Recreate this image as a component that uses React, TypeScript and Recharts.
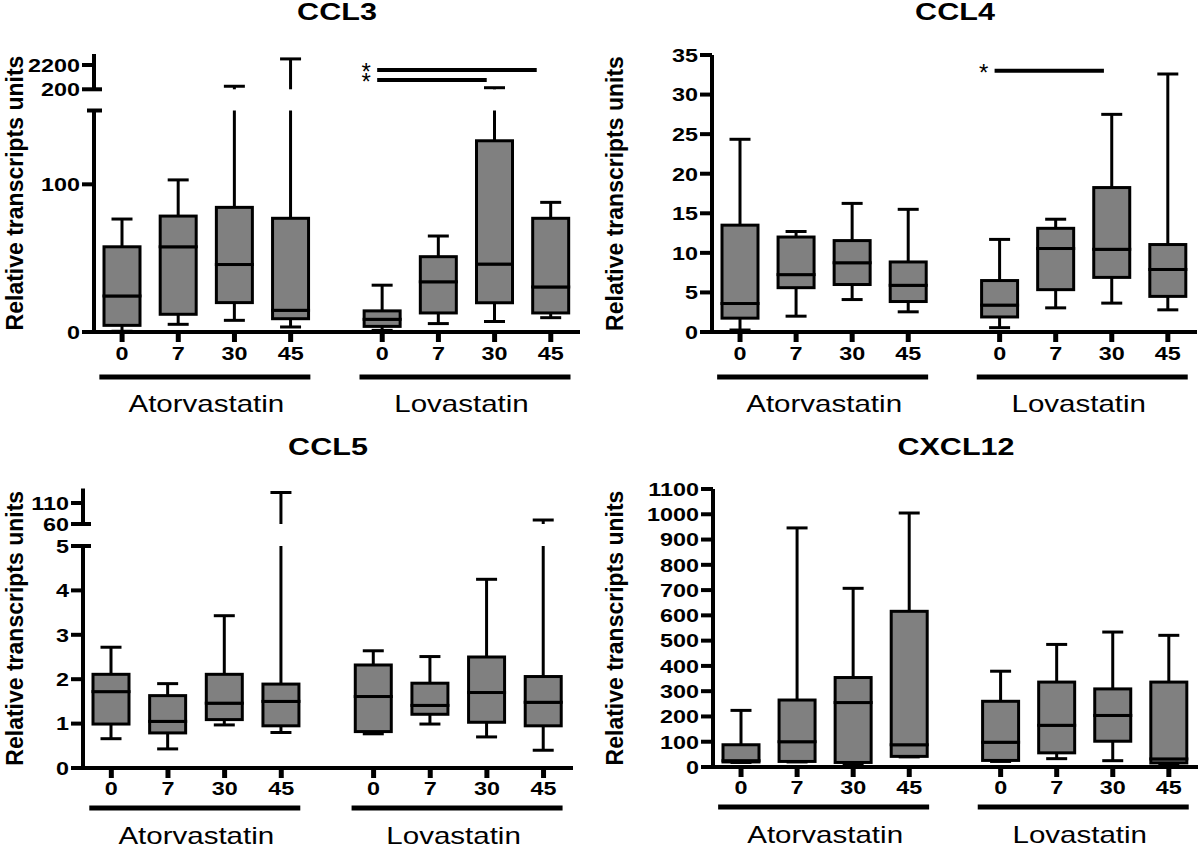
import React from 'react'
import { ComposedChart, Bar, XAxis, YAxis, ReferenceLine } from 'recharts'

const FONT = 'Arial, "Liberation Sans", Helvetica, sans-serif'
const SX = 1.23 // the source lettering is stretched sideways
const TITLE_SX = 1.3
const FILL = '#808080'

const days = ['0', '7', '30', '45']
const groups = ['Atorvastatin', 'Lovastatin']
const yLabel = 'Relative transcripts units'

// [min, q1, median, q3, max] — Atorvastatin 0/7/30/45, then Lovastatin 0/7/30/45
type Box = [number, number, number, number, number]

const ccl3: Box[] = [
  [0.5, 4.5, 24.4, 57.7, 76.5],
  [5.2, 12, 57.7, 78.5, 103],
  [7.9, 19.9, 45.7, 84.4, 450],
  [3.4, 9, 14.7, 77, 2700],
  [1.1, 3.8, 8.6, 14.3, 31.7],
  [5.7, 12.9, 34, 51, 65],
  [7.1, 19.8, 46, 129.5, 330],
  [9.7, 12.9, 30.5, 77, 87.8],
]
const ccl4: Box[] = [
  [0.25, 1.75, 3.6, 13.5, 24.35],
  [2.0, 5.6, 7.25, 12.0, 12.7],
  [4.1, 6.0, 8.75, 11.55, 16.25],
  [2.55, 3.85, 5.9, 8.85, 15.5],
  [0.55, 1.9, 3.4, 6.5, 11.7],
  [3.05, 5.35, 10.55, 13.1, 14.25],
  [3.65, 6.9, 10.45, 18.25, 27.5],
  [2.8, 4.5, 7.9, 11.05, 32.6],
]
const ccl5: Box[] = [
  [0.66, 0.99, 1.72, 2.11, 2.72],
  [0.43, 0.79, 1.05, 1.63, 1.9],
  [0.97, 1.09, 1.46, 2.11, 3.43],
  [0.8, 0.95, 1.5, 1.89, 135],
  [0.77, 0.82, 1.61, 2.32, 2.64],
  [0.99, 1.21, 1.41, 1.91, 2.51],
  [0.7, 1.03, 1.7, 2.5, 4.25],
  [0.4, 0.95, 1.48, 2.06, 69.5],
]
const cxcl12: Box[] = [
  [18, 20, 25, 88, 224],
  [20, 22, 100, 265, 946],
  [9, 18, 255, 354, 707],
  [40, 42, 88, 616, 1005],
  [22, 26, 98, 260, 379],
  [33, 56, 165, 336, 485],
  [25, 102, 204, 309, 534],
  [9, 16, 32, 336, 521],
]

const ccl3Ticks = [0, 100, 150, 200, 2200]
const ccl3TickLabels = ['0', '100', '', '200', '2200']
const ccl4Ticks = [0, 5, 10, 15, 20, 25, 30, 35]
const ccl5Ticks = [0, 1, 2, 3, 4, 5, 60, 110]
const cxcl12Ticks = [0, 100, 200, 300, 400, 500, 600, 700, 800, 900, 1000, 1100]

// significance bars: box index from -> to, height in data units
const ccl3Sig = [{ from: 4, to: 7, y: 1785 }, { from: 4, to: 6, y: 964 }]
const ccl4Sig = [{ from: 4, to: 6, y: 33 }]

const X_MIN = -0.5
const X_MAX = 8.15
const LOVA_SHIFT = 0.63
const X_AXIS_H = 30
const boxPos = (i: number) => (i < 4 ? i : i + LOVA_SHIFT)
const positions = [0, 1, 2, 3, 4, 5, 6, 7].map(boxPos)
const groupCenters = [1.5, 4 + LOVA_SHIFT + 1.5]

interface Brk { low: number; high: number; gap: number; k: number }

function toDisp(v: number, brk?: Brk) {
  if (!brk || v <= brk.low) return v
  return brk.low + brk.gap + (v - brk.high) * brk.k
}

interface PanelCfg {
  title: string
  data: Box[]
  left: number
  top: number
  width: number
  height: number
  plot: { l: number; r: number; t: number; b: number }
  yTop: number
  ticks: number[]
  tickLabels?: string[]
  brk?: Brk
  sig?: { from: number; to: number; y: number }[]
  tickDy: number
  ulDy: number
  lblDy: number
  titleY: number
}

const panels: PanelCfg[] = [
  {
    title: 'CCL3', data: ccl3, left: 0, top: 0, width: 600, height: 420,
    plot: { l: 94, r: 580, t: 54, b: 332 }, yTop: 188.26,
    ticks: ccl3Ticks, tickLabels: ccl3TickLabels,
    brk: { low: 150, high: 200, gap: 14.36, k: 0.00823 },
    sig: ccl3Sig, tickDy: 21, ulDy: 45, lblDy: 71, titleY: 13,
  },
  {
    title: 'CCL4', data: ccl4, left: 600, top: 0, width: 600, height: 420,
    plot: { l: 112, r: 597, t: 55, b: 332 }, yTop: 35,
    ticks: ccl4Ticks, sig: ccl4Sig, tickDy: 21, ulDy: 45, lblDy: 71, titleY: 13,
  },
  {
    title: 'CCL5', data: ccl5, left: 0, top: 420, width: 600, height: 429,
    plot: { l: 83, r: 573, t: 68.5, b: 348 }, yTop: 6.295,
    ticks: ccl5Ticks,
    brk: { low: 5, high: 60, gap: 0.4955, k: 0.00946 },
    tickDy: 20, ulDy: 40, lblDy: 67, titleY: 28,
  },
  {
    title: 'CXCL12', data: cxcl12, left: 600, top: 420, width: 600, height: 429,
    plot: { l: 113, r: 598, t: 69, b: 347 }, yTop: 1100,
    ticks: cxcl12Ticks, tickDy: 20, ulDy: 40, lblDy: 67, titleY: 28,
  },
]

const seg = (x1: number, y1: number, x2: number, y2: number, w = 3, key?: number) => (
  <line key={key} x1={x1} y1={y1} x2={x2} y2={y2} stroke="#000" strokeWidth={w} />
)

function Panel({ cfg }: { cfg: PanelCfg }) {
  const { plot, brk } = cfg
  const t = (v: number) => toDisp(v, brk)
  const rows = cfg.data.map((b, i) => ({
    pos: boxPos(i),
    max: b[4],
    q3: b[3],
    base: t(b[0]),
    lowW: t(b[1]) - t(b[0]),
    boxLo: t(b[2]) - t(b[1]),
    boxHi: t(b[3]) - t(b[2]),
    highW: t(b[4]) - t(b[3]),
  }))
  const dispTicks = cfg.ticks.map(t)
  const h2 = cfg.height - plot.b - X_AXIS_H
  const cy = (plot.t + plot.b) / 2

  const boxShape = (p: any) => (
    <rect x={p.x} y={p.y} width={p.width} height={Math.max(p.height, 0)} fill={FILL} stroke="#000" strokeWidth={3} />
  )
  const lowShape = (p: any) => {
    const cx = p.x + p.width / 2
    const yb = p.y + p.height
    return (
      <g>
        {seg(cx, p.y, cx, yb)}
        {seg(cx - 10.5, yb, cx + 10.5, yb)}
      </g>
    )
  }
  const highShape = (p: any) => {
    const cx = p.x + p.width / 2
    const top = p.y
    const bottom = p.y + p.height
    const row = p.payload
    let parts: [number, number][] = [[bottom, top]]
    if (brk && row.max > brk.low) {
      const d3 = t(row.q3)
      const dm = t(row.max)
      const py = (d: number) => top + (p.height * (dm - d)) / (dm - d3)
      parts = [[bottom, py(brk.low)], [py(brk.low + brk.gap), top]]
    }
    return (
      <g>
        {parts.map(([a, b], i) => seg(cx, a, cx, b, 3, i))}
        {seg(cx - 10.5, top, cx + 10.5, top)}
      </g>
    )
  }

  const yTick = (p: any) => {
    const i = dispTicks.findIndex((d) => Math.abs(d - p.payload.value) < 1e-6)
    const raw = cfg.ticks[i]
    const label = cfg.tickLabels ? cfg.tickLabels[i] : String(raw)
    const capped = brk && (raw === brk.low || raw === brk.high)
    const x = p.x
    return (
      <g>
        {seg(x - (label ? 12 : 7), p.y, x + (capped ? 8 : 0), p.y, 4)}
        {label && (
          <text transform={`translate(${x - 14},${p.y}) scale(${SX},1)`} textAnchor="end" dy="0.36em"
            fontSize={19} fontWeight="bold" fontFamily={FONT} fill="#000">{label}</text>
        )}
      </g>
    )
  }
  const xTick = (p: any) => (
    <g>
      {seg(p.x, p.y, p.x, p.y + 10, 5)}
      <text transform={`translate(${p.x},${p.y + cfg.tickDy}) scale(${SX},1)`} textAnchor="middle" dy="0.36em"
        fontSize={19} fontWeight="bold" fontFamily={FONT} fill="#000">{days[p.index % 4]}</text>
    </g>
  )
  const groupTick = (p: any) => {
    const base = p.y - X_AXIS_H
    return (
      <g>
        {seg(p.x - 107, base + cfg.ulDy, p.x + 104, base + cfg.ulDy, 5)}
        <text transform={`translate(${p.x - (p.index ? 5 : 0)},${base + cfg.lblDy}) scale(${SX},1)`} textAnchor="middle" dy="0.36em"
          fontSize={24} fontFamily={FONT} fill="#000">{groups[p.index]}</text>
      </g>
    )
  }
  const sigShape = (p: any) => (
    <g>
      {seg(p.x1, p.y1, p.x2, p.y2, 4)}
      <text x={p.x1 - 11} y={p.y1 + 10} textAnchor="middle" fontSize={24} fontFamily={FONT} fill="#000">*</text>
    </g>
  )

  return (
    <div style={{ position: 'absolute', left: cfg.left, top: cfg.top, width: cfg.width, height: cfg.height }}>
      <div
        style={{
          position: 'absolute', left: (plot.l + plot.r) / 2 - 150, width: 300, top: cfg.titleY - 11.6,
          textAlign: 'center', fontFamily: FONT, fontWeight: 'bold', fontSize: 23.5, lineHeight: '23.5px',
          transform: `scaleX(${TITLE_SX})`,
        }}
      >
        {cfg.title}
      </div>
      <ComposedChart width={cfg.width} height={cfg.height} data={rows}
        margin={{ top: plot.t, right: cfg.width - plot.r, bottom: 0, left: 0 }}>
        <XAxis dataKey="pos" type="number" domain={[X_MIN, X_MAX]} ticks={positions} interval={0}
          allowDataOverflow height={X_AXIS_H} tickSize={0} tickMargin={0} tickLine={false}
          axisLine={{ stroke: '#000', strokeWidth: 4 }} tick={xTick} />
        <XAxis xAxisId="grp" dataKey="pos" type="number" domain={[X_MIN, X_MAX]} ticks={groupCenters} interval={0}
          allowDataOverflow height={h2} tickSize={0} tickMargin={0} tickLine={false} axisLine={false} tick={groupTick} />
        <YAxis type="number" domain={[0, cfg.yTop]} ticks={dispTicks} interval={0} allowDataOverflow
          width={plot.l} tickSize={0} tickMargin={0} tickLine={false}
          axisLine={brk ? false : { stroke: '#000', strokeWidth: 4 }} tick={yTick}
          label={{
            content: () => (
              <text transform={`translate(15,${cy}) rotate(-90)`} textAnchor="middle" dy="0.36em"
                fontSize={23} fontWeight="bold" fontFamily={FONT} fill="#000">{yLabel}</text>
            ),
          }} />
        {brk && (
          <ReferenceLine segment={[{ x: X_MIN, y: 0 }, { x: X_MIN, y: brk.low }]} stroke="#000" strokeWidth={4} ifOverflow="visible" />
        )}
        {brk && (
          <ReferenceLine segment={[{ x: X_MIN, y: t(brk.high) }, { x: X_MIN, y: cfg.yTop }]} stroke="#000" strokeWidth={4} ifOverflow="visible" />
        )}
        <Bar dataKey="base" stackId="b" barSize={36} isAnimationActive={false} shape={() => <g />} />
        <Bar dataKey="lowW" stackId="b" barSize={36} isAnimationActive={false} shape={lowShape} />
        <Bar dataKey="boxLo" stackId="b" barSize={36} isAnimationActive={false} shape={boxShape} />
        <Bar dataKey="boxHi" stackId="b" barSize={36} isAnimationActive={false} shape={boxShape} />
        <Bar dataKey="highW" stackId="b" barSize={36} isAnimationActive={false} shape={highShape} />
        {(cfg.sig || []).map((s, i) => (
          <ReferenceLine key={i} ifOverflow="visible"
            segment={[{ x: boxPos(s.from) - 0.09, y: t(s.y) }, { x: boxPos(s.to) - (s.to === 7 ? 0.25 : 0.14), y: t(s.y) }]}
            shape={sigShape} />
        ))}
      </ComposedChart>
    </div>
  )
}

export default function App() {
  return (
    <div style={{ position: 'absolute', left: 0, top: 0, width: 1200, height: 849, background: '#fff' }}>
      {panels.map((p) => (
        <Panel key={p.title} cfg={p} />
      ))}
    </div>
  )
}
